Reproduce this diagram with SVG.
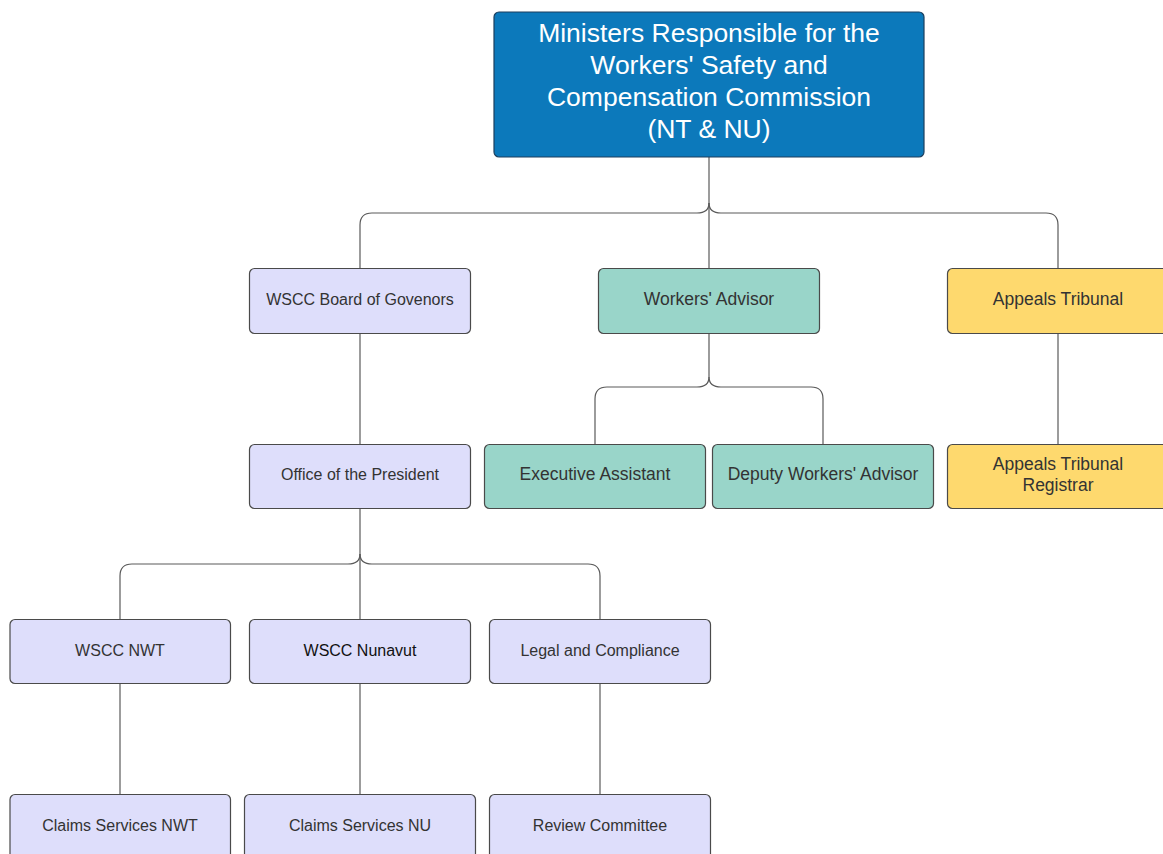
<svg xmlns="http://www.w3.org/2000/svg" width="1163" height="854" viewBox="0 0 1163 854">
<style>
.box{stroke:#4a4a4a;stroke-width:1.2}
.lav{fill:#dedefb}
.teal{fill:#99d5c9}
.yel{fill:#fed96e}
.top{fill:#0c79bb;stroke:#1c3f5e;stroke-width:1.2}
.t{font-family:"Liberation Sans",Arial,sans-serif;fill:#333;text-anchor:middle;dominant-baseline:central}
.s16{font-size:16px}
.s17{font-size:17.5px}
.tw{font-family:"Liberation Sans",Arial,sans-serif;fill:#fff;text-anchor:middle;font-size:26.5px}
.c{fill:none;stroke:#5a5a5a;stroke-width:1.2}
</style>
<rect width="1163" height="854" fill="#fff"/>
<g id="connectors">
<path class="c" d="M709 157 V268"/>
<path class="c" d="M709 203 Q709 213 697 213 H372 Q360 213 360 225 V268"/>
<path class="c" d="M709 203 Q709 213 721 213 H1046 Q1058 213 1058 225 V268"/>
<path class="c" d="M360 333 V444"/>
<path class="c" d="M1058 333 V444"/>
<path class="c" d="M709 333 V377 Q709 387 697 387 H607 Q595 387 595 399 V444"/>
<path class="c" d="M709 377 Q709 387 721 387 H811 Q823 387 823 399 V444"/>
<path class="c" d="M360 509 V619"/>
<path class="c" d="M360 554 Q360 564 348 564 H132 Q120 564 120 576 V619"/>
<path class="c" d="M360 554 Q360 564 372 564 H588 Q600 564 600 576 V619"/>
<path class="c" d="M120 684 V794"/>
<path class="c" d="M360 684 V794"/>
<path class="c" d="M600 684 V794"/>
</g>
<g id="ministers">
<rect class="top" x="494" y="12" width="430" height="145" rx="5"/>
<text class="tw" x="709" y="42">Ministers Responsible for the</text>
<text class="tw" x="709" y="74">Workers' Safety and</text>
<text class="tw" x="709" y="106">Compensation Commission</text>
<text class="tw" x="709" y="138">(NT &amp; NU)</text>
</g>
<g id="board">
<rect class="box lav" x="249.5" y="268.5" width="221" height="65" rx="5"/>
<text class="t s16" x="360" y="299">WSCC Board of Govenors</text>
</g>
<g id="workers-advisor">
<rect class="box teal" x="598.5" y="268.5" width="221" height="65" rx="5"/>
<text class="t s17" x="709" y="299">Workers' Advisor</text>
</g>
<g id="appeals-tribunal">
<rect class="box yel" x="947.5" y="268.5" width="225" height="65" rx="5"/>
<text class="t s17" x="1058" y="299">Appeals Tribunal</text>
</g>
<g id="office-president">
<rect class="box lav" x="249.5" y="444.5" width="221" height="64" rx="5"/>
<text class="t s16" x="360" y="474">Office of the President</text>
</g>
<g id="executive-assistant">
<rect class="box teal" x="484.5" y="444.5" width="221" height="64" rx="5"/>
<text class="t s17" x="595" y="474">Executive Assistant</text>
</g>
<g id="deputy-workers-advisor">
<rect class="box teal" x="712.5" y="444.5" width="221" height="64" rx="5"/>
<text class="t s17" x="823" y="474">Deputy Workers' Advisor</text>
</g>
<g id="appeals-registrar">
<rect class="box yel" x="947.5" y="444.5" width="225" height="64" rx="5"/>
<text class="t s17" x="1058" y="464">Appeals Tribunal</text>
<text class="t s17" x="1058" y="485">Registrar</text>
</g>
<g id="wscc-nwt">
<rect class="box lav" x="10" y="619.5" width="220.5" height="64" rx="5"/>
<text class="t s16" x="120" y="650">WSCC NWT</text>
</g>
<g id="wscc-nunavut">
<rect class="box lav" x="249.5" y="619.5" width="221" height="64" rx="5"/>
<text class="t s16" x="360" y="650" style="fill:#111">WSCC Nunavut</text>
</g>
<g id="legal-compliance">
<rect class="box lav" x="489.5" y="619.5" width="221" height="64" rx="5"/>
<text class="t s16" x="600" y="650">Legal and Compliance</text>
</g>
<g id="claims-nwt">
<rect class="box lav" x="10" y="794.5" width="220.5" height="70" rx="5"/>
<text class="t s16" x="120" y="825">Claims Services NWT</text>
</g>
<g id="claims-nu">
<rect class="box lav" x="244.5" y="794.5" width="231" height="70" rx="5"/>
<text class="t s16" x="360" y="825">Claims Services NU</text>
</g>
<g id="review-committee">
<rect class="box lav" x="489.5" y="794.5" width="221" height="70" rx="5"/>
<text class="t s16" x="600" y="825">Review Committee</text>
</g>
</svg>
